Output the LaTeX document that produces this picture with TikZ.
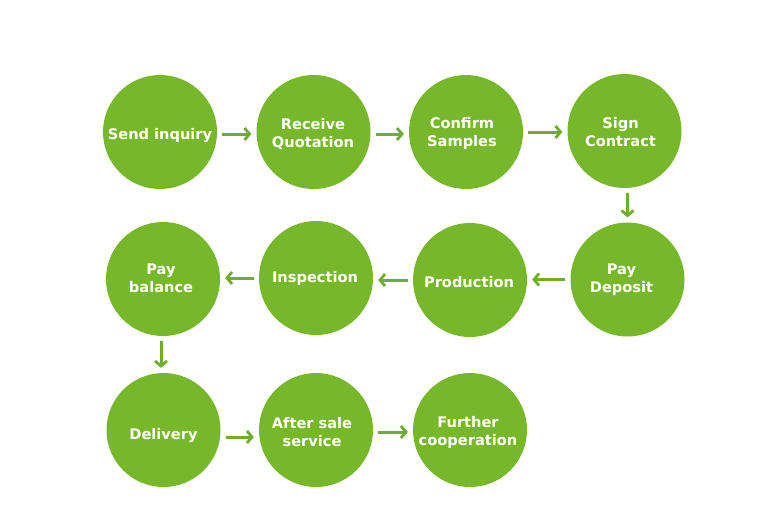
\documentclass[tikz,border=0pt]{standalone}
\usepackage{fontspec}
\setmainfont{DejaVu Sans}
\usetikzlibrary{arrows.meta,calc}
\definecolor{stepgreen}{HTML}{77B82A}
\definecolor{arrowgreen}{HTML}{70AC2E}
\tikzset{
  stepcircle/.style={circle,fill=stepgreen,draw=none,minimum size=114pt,inner sep=0pt},
  steptext/.style={text=white,font=\bfseries\fontsize{14.6}{18}\selectfont,align=center,inner sep=0pt},
  flow/.style={draw=arrowgreen,line width=3pt,-{Straight Barb[length=5pt,width=12pt,line width=2.8pt]},shorten <=5pt,shorten >=5pt}
}
\begin{document}
\begin{tikzpicture}[x=1pt,y=-1pt]
\useasboundingbox (0,0) rectangle (773,507);
\fill[white] (0,0) rectangle (773,507);
% circles
\node[stepcircle] (c1) at (160,132) {};
\node[stepcircle] (c2) at (313.5,132) {};
\node[stepcircle] (c3) at (466,132) {};
\node[stepcircle] (c4) at (624.5,131) {};
\node[stepcircle] (c5) at (627.5,279.5) {};
\node[stepcircle] (c6) at (470,280) {};
\node[stepcircle] (c7) at (316,278) {};
\node[stepcircle] (c8) at (163,279) {};
\node[stepcircle] (c9) at (163.5,430) {};
\node[stepcircle] (c10) at (316,430) {};
\node[stepcircle] (c11) at (470,430) {};
% texts
\node[steptext] (t1) at ($(c1)+(0,4)$) {Send inquiry};
\node[steptext] (t2) at ($(c2)+(-0.5,2)$) {Receive\\Quotation};
\node[steptext] (t3) at ($(c3)+(-4,1)$) {Confirm\\Samples};
\node[steptext] (t4) at ($(c4)+(-4,1)$) {Sign\\Contract};
\node[steptext] (t5) at ($(c5)+(-6,0)$) {Pay\\Deposit};
\node[steptext] (t6) at ($(c6)+(-1,2)$) {Production};
\node[steptext] (t7) at ($(c7)+(-1,0)$) {Inspection};
\node[steptext] (t8) at ($(c8)+(-2,-1)$) {Pay\\balance};
\node[steptext] (t9) at ($(c9)+(0,6)$) {Delivery};
\node[steptext] (t10) at ($(c10)+(-4,2)$) {After sale\\service};
\node[steptext] (t11) at ($(c11)+(-2,2)$) {Further\\cooperation};
% arrows
\draw[flow] ([yshift=-2pt]c1.east) -- ([yshift=-2pt]c1.east -| c2.west);
\draw[flow] ([yshift=-2pt]c2.east) -- ([yshift=-2pt]c2.east -| c3.west);
\draw[flow] (c3.east) -- (c3.east -| c4.west);
\draw[flow] (c4.south -| c5.north) -- (c5.north);
\draw[flow] (c5.west) -- (c5.west -| c6.east);
\draw[flow] (c6.west) -- (c6.west -| c7.east);
\draw[flow] (c7.west) -- (c7.west -| c8.east);
\draw[flow] ([xshift=-2pt]c8.south) -- ([xshift=-2pt]c8.south |- c9.north);
\draw[flow] ([yshift=-7pt]c9.east) -- ([yshift=-7pt]c9.east -| c10.west);
\draw[flow] ([yshift=-2pt]c10.east) -- ([yshift=-2pt]c10.east -| c11.west);
\end{tikzpicture}
\end{document}
